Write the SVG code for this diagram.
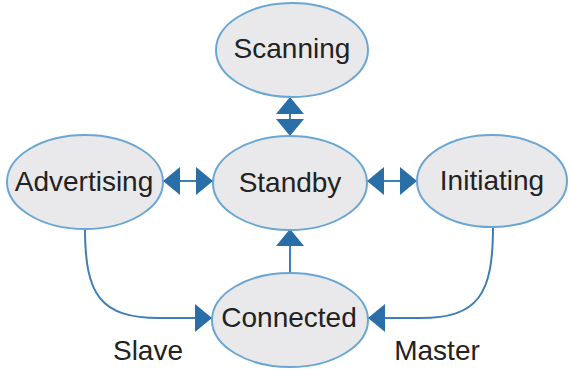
<svg xmlns="http://www.w3.org/2000/svg" width="569" height="369" viewBox="0 0 569 369">
<style>
.node ellipse{fill:#e9e9eb;stroke:#6aa6d2;stroke-width:2}
.node text,.lbl{font-family:"Liberation Sans",Arial,sans-serif;font-size:28px;fill:#222;text-anchor:middle}
.conn path,.conn line{fill:none;stroke:#3f7fb3;stroke-width:2}
</style>
<defs>
<marker id="ah" markerUnits="userSpaceOnUse" markerWidth="18" markerHeight="30" refX="17" refY="14" orient="auto-start-reverse" viewBox="0 0 18 30">
<path d="M0,0 L17,14 L0,28 z" fill="#2a6ea8"/>
</marker>
</defs>
<rect width="569" height="369" fill="#ffffff"/>
<g id="connectors" class="conn">
<line x1="290" y1="97" x2="290" y2="136" marker-start="url(#ah)" marker-end="url(#ah)"/>
<line x1="163" y1="181" x2="213" y2="181" marker-start="url(#ah)" marker-end="url(#ah)"/>
<line x1="367" y1="181" x2="417" y2="181" marker-start="url(#ah)" marker-end="url(#ah)"/>
<line x1="290" y1="273" x2="290" y2="229" marker-end="url(#ah)"/>
<path d="M85,228 C85,295 100,318 160,318 L212,318" marker-end="url(#ah)"/>
<path d="M493,227 C493,295 478,318 420,318 L368,318" marker-end="url(#ah)"/>
</g>
<g id="scanning" class="node"><ellipse cx="292" cy="50" rx="76" ry="47"/><text x="292" y="58">Scanning</text></g>
<g id="standby" class="node"><ellipse cx="290" cy="183" rx="77" ry="47"/><text x="290" y="192">Standby</text></g>
<g id="advertising" class="node"><ellipse cx="85" cy="182" rx="78" ry="47"/><text x="84" y="191">Advertising</text></g>
<g id="initiating" class="node"><ellipse cx="492" cy="181" rx="75" ry="46"/><text x="492" y="190">Initiating</text></g>
<g id="connected" class="node"><ellipse cx="290" cy="320" rx="78" ry="47"/><text x="289" y="327">Connected</text></g>
<text class="lbl" x="148" y="360">Slave</text>
<text class="lbl" x="437" y="360">Master</text>
</svg>
